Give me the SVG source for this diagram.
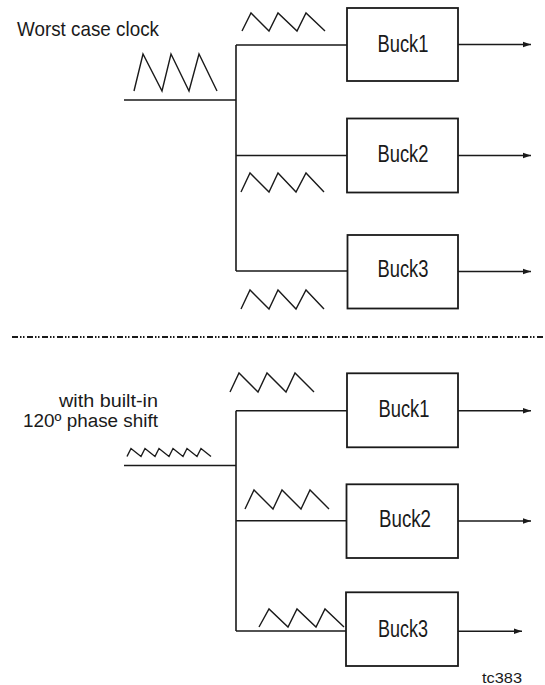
<svg xmlns="http://www.w3.org/2000/svg" width="545" height="685" viewBox="0 0 545 685">
<defs>
<style>
.box{fill:#fff;stroke:#1a1a1a;stroke-width:1.8}
.wire{fill:none;stroke:#1a1a1a;stroke-width:1.6}
.wave{fill:none;stroke:#1a1a1a;stroke-width:1.4;stroke-linejoin:miter}
.lbl{font-family:"Liberation Sans Narrow","Liberation Sans",Arial,sans-serif;fill:#1a1a1a}
.buck{font-size:23px;text-anchor:middle}
.sep{fill:none;stroke:#1a1a1a;stroke-width:2;stroke-dasharray:6 2 1.5 1.5 1.5 2.5}
</style>
<marker id="arr" markerUnits="userSpaceOnUse" markerWidth="9" markerHeight="7" refX="8" refY="3.5" orient="auto">
<path d="M0,0.8 L8,3.5 L0,6.2 Z" fill="#1a1a1a"/>
</marker>
</defs>
<rect width="545" height="685" fill="#fff"/>

<g id="connectors">
<path class="wire" d="M124,100 H236 M236,45 V271 M236,45 H347 M236,155.5 H347 M236,271 H347"/>
<path class="wire" d="M458,44.5 H531" marker-end="url(#arr)"/>
<path class="wire" d="M458,155.5 H531" marker-end="url(#arr)"/>
<path class="wire" d="M458,271.5 H531" marker-end="url(#arr)"/>
<path class="wire" d="M124,465.5 H236 M236,410.7 V631 M236,410.7 H347 M236,520.7 H347 M236,631 H346"/>
<path class="wire" d="M458,410.7 H531" marker-end="url(#arr)"/>
<path class="wire" d="M458,521 H531" marker-end="url(#arr)"/>
<path class="wire" d="M458,631.3 H522" marker-end="url(#arr)"/>
</g>

<g id="waveforms">
<polyline class="wave" points="134,91 143,54 162,91 171,54 189,91 199,54 217,91"/>
<polyline class="wave" points="242,31 251,13 269,31 278,13 297,31 306,13 325,31"/>
<polyline class="wave" points="241,192 250,173 269,192 278,173 296,192 306,173 324,192"/>
<polyline class="wave" points="241,309 250,290 269,309 278,290 296,309 306,290 324,309"/>
<polyline class="wave" points="127,456.5 131,448.5 141,456.5 145,448.5 155,456.5 159,448.5 169,456.5 173,448.5 183,456.5 187,448.5 197,456.5 201,448.5 211,456.5"/>
<polyline class="wave" points="230,392 239,373 258,392 267,373 286,392 295,373 314,392"/>
<polyline class="wave" points="245,509 254,490 273,509 282,490 301,509 310,490 329,509"/>
<polyline class="wave" points="259,627 269,609 288,627 297,609 316,627 325,609 344,627"/>
</g>

<g id="separator">
<line class="sep" x1="12" y1="337" x2="545" y2="337"/>
</g>

<g id="labels">
<text class="lbl" x="17" y="36" font-size="21" textLength="142" lengthAdjust="spacingAndGlyphs">Worst case clock</text>
<text class="lbl" x="59" y="407" font-size="18" textLength="99" lengthAdjust="spacingAndGlyphs">with built-in</text>
<text class="lbl" x="23" y="427" font-size="18" textLength="135" lengthAdjust="spacingAndGlyphs">120º phase shift</text>
<text class="lbl" x="482" y="683" font-size="14" textLength="40" lengthAdjust="spacingAndGlyphs">tc383</text>
</g>

<g id="buck1-top">
<rect class="box" x="347" y="8" width="111" height="73"/>
<text class="lbl buck" x="403" y="52" textLength="51" lengthAdjust="spacingAndGlyphs">Buck1</text>
</g>
<g id="buck2-top">
<rect class="box" x="347" y="118.5" width="111" height="74"/>
<text class="lbl buck" x="403" y="162" textLength="51" lengthAdjust="spacingAndGlyphs">Buck2</text>
</g>
<g id="buck3-top">
<rect class="box" x="347.5" y="235" width="110.5" height="73.5"/>
<text class="lbl buck" x="403" y="277" textLength="51" lengthAdjust="spacingAndGlyphs">Buck3</text>
</g>
<g id="buck1-bottom">
<rect class="box" x="347" y="373.3" width="111" height="74"/>
<text class="lbl buck" x="404" y="417" textLength="51" lengthAdjust="spacingAndGlyphs">Buck1</text>
</g>
<g id="buck2-bottom">
<rect class="box" x="346.5" y="484.3" width="111.5" height="73.7"/>
<text class="lbl buck" x="405" y="527" textLength="52" lengthAdjust="spacingAndGlyphs">Buck2</text>
</g>
<g id="buck3-bottom">
<rect class="box" x="346" y="592.3" width="112" height="73.7"/>
<text class="lbl buck" x="403" y="637" textLength="50" lengthAdjust="spacingAndGlyphs">Buck3</text>
</g>
</svg>
